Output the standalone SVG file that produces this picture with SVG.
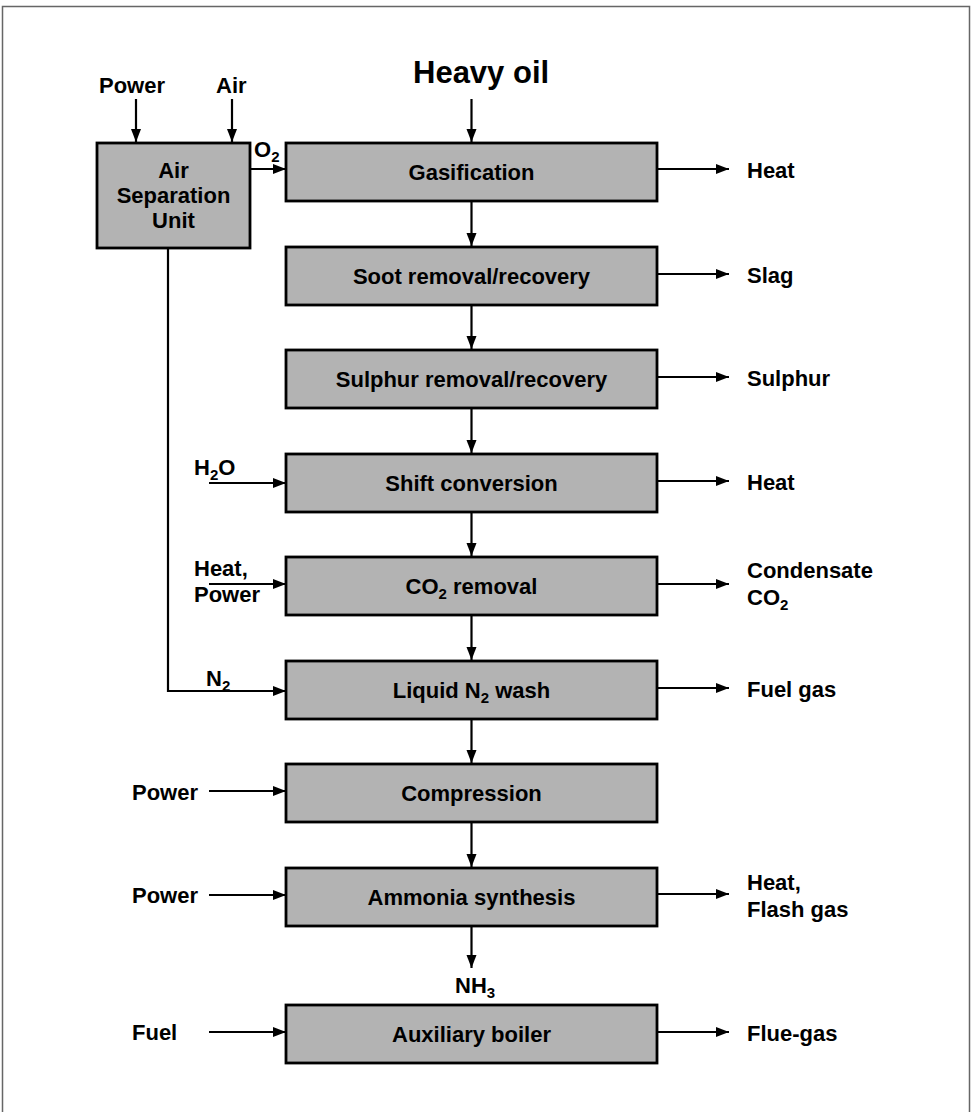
<svg xmlns="http://www.w3.org/2000/svg" width="972" height="1112" viewBox="0 0 972 1112">
<style>
text{font-family:"Liberation Sans",Arial,sans-serif;font-weight:bold;font-size:22px;fill:#000}
.c{text-anchor:middle}
.box{fill:#b3b3b3;stroke:#000;stroke-width:2.8}
.ln{stroke:#000;stroke-width:2.2;fill:none}
.sub{font-size:15px}
</style>
<defs>
<marker id="ah" markerUnits="userSpaceOnUse" markerWidth="14" markerHeight="11" refX="13" refY="5" orient="auto">
<path d="M0,0 L13,5 L0,10 z" fill="#000"/>
</marker>
</defs>
<rect x="2.5" y="6.5" width="967" height="1120" fill="none" stroke="#666" stroke-width="1.5"/>
<text x="413" y="83" style="font-size:31px">Heavy oil</text>
<text x="99" y="93">Power</text>
<text x="216" y="93">Air</text>
<g id="asu">
<rect class="box" x="97" y="143" width="153" height="105"/>
<text class="c" x="173.5" y="178">Air</text>
<text class="c" x="173.5" y="203">Separation</text>
<text class="c" x="173.5" y="228">Unit</text>
</g>
<g id="gasification"><rect class="box" x="286" y="143" width="371" height="58"/><text class="c" x="471.5" y="180">Gasification</text></g>
<g id="soot"><rect class="box" x="286" y="247" width="371" height="58"/><text class="c" x="471.5" y="284">Soot removal/recovery</text></g>
<g id="sulphur"><rect class="box" x="286" y="350" width="371" height="58"/><text class="c" x="471.5" y="387">Sulphur removal/recovery</text></g>
<g id="shift"><rect class="box" x="286" y="454" width="371" height="58"/><text class="c" x="471.5" y="491">Shift conversion</text></g>
<g id="co2"><rect class="box" x="286" y="557" width="371" height="58"/><text class="c" x="471.5" y="594">CO<tspan class="sub" dy="5">2</tspan><tspan dy="-5"> removal</tspan></text></g>
<g id="n2wash"><rect class="box" x="286" y="661" width="371" height="58"/><text class="c" x="471.5" y="698">Liquid N<tspan class="sub" dy="5">2</tspan><tspan dy="-5"> wash</tspan></text></g>
<g id="compression"><rect class="box" x="286" y="764" width="371" height="58"/><text class="c" x="471.5" y="801">Compression</text></g>
<g id="ammonia"><rect class="box" x="286" y="868" width="371" height="58"/><text class="c" x="471.5" y="905">Ammonia synthesis</text></g>
<g id="boiler"><rect class="box" x="286" y="1005" width="371" height="58"/><text class="c" x="471.5" y="1042">Auxiliary boiler</text></g>
<g id="connectors">
<line class="ln" x1="471.5" y1="99" x2="471.5" y2="142" marker-end="url(#ah)"/>
<line class="ln" x1="136" y1="99" x2="136" y2="142" marker-end="url(#ah)"/>
<line class="ln" x1="232" y1="99" x2="232" y2="142" marker-end="url(#ah)"/>
<line class="ln" x1="250" y1="169" x2="286" y2="169" marker-end="url(#ah)"/>
<line class="ln" x1="471.5" y1="202" x2="471.5" y2="246" marker-end="url(#ah)"/>
<line class="ln" x1="471.5" y1="306" x2="471.5" y2="349" marker-end="url(#ah)"/>
<line class="ln" x1="471.5" y1="409" x2="471.5" y2="453" marker-end="url(#ah)"/>
<line class="ln" x1="471.5" y1="513" x2="471.5" y2="556" marker-end="url(#ah)"/>
<line class="ln" x1="471.5" y1="616" x2="471.5" y2="660" marker-end="url(#ah)"/>
<line class="ln" x1="471.5" y1="720" x2="471.5" y2="763" marker-end="url(#ah)"/>
<line class="ln" x1="471.5" y1="823" x2="471.5" y2="867" marker-end="url(#ah)"/>
<line class="ln" x1="471.5" y1="927" x2="471.5" y2="968" marker-end="url(#ah)"/>
<polyline class="ln" points="168,249 168,691 286,691" marker-end="url(#ah)"/>
<line class="ln" x1="209" y1="483" x2="286" y2="483" marker-end="url(#ah)"/>
<line class="ln" x1="209" y1="584" x2="286" y2="584" marker-end="url(#ah)"/>
<line class="ln" x1="209" y1="791" x2="286" y2="791" marker-end="url(#ah)"/>
<line class="ln" x1="209" y1="895" x2="286" y2="895" marker-end="url(#ah)"/>
<line class="ln" x1="209" y1="1032" x2="286" y2="1032" marker-end="url(#ah)"/>
<line class="ln" x1="657" y1="169" x2="729" y2="169" marker-end="url(#ah)"/>
<line class="ln" x1="657" y1="274" x2="729" y2="274" marker-end="url(#ah)"/>
<line class="ln" x1="657" y1="377" x2="729" y2="377" marker-end="url(#ah)"/>
<line class="ln" x1="657" y1="481" x2="729" y2="481" marker-end="url(#ah)"/>
<line class="ln" x1="657" y1="584" x2="729" y2="584" marker-end="url(#ah)"/>
<line class="ln" x1="657" y1="688" x2="729" y2="688" marker-end="url(#ah)"/>
<line class="ln" x1="657" y1="894" x2="729" y2="894" marker-end="url(#ah)"/>
<line class="ln" x1="657" y1="1032" x2="729" y2="1032" marker-end="url(#ah)"/>
</g>
<text x="254" y="157">O<tspan class="sub" dy="5">2</tspan></text>
<text x="194" y="475">H<tspan class="sub" dy="5">2</tspan><tspan dy="-5">O</tspan></text>
<text x="194" y="576">Heat,</text>
<text x="194" y="602">Power</text>
<text x="206" y="686">N<tspan class="sub" dy="5">2</tspan></text>
<text x="132" y="800">Power</text>
<text x="132" y="903">Power</text>
<text x="132" y="1040">Fuel</text>
<text x="455" y="993">NH<tspan class="sub" dy="5">3</tspan></text>
<text x="747" y="178">Heat</text>
<text x="747" y="283">Slag</text>
<text x="747" y="386">Sulphur</text>
<text x="747" y="490">Heat</text>
<text x="747" y="578">Condensate</text>
<text x="747" y="605">CO<tspan class="sub" dy="5">2</tspan></text>
<text x="747" y="697">Fuel gas</text>
<text x="747" y="890">Heat,</text>
<text x="747" y="917">Flash gas</text>
<text x="747" y="1041">Flue-gas</text>
</svg>
